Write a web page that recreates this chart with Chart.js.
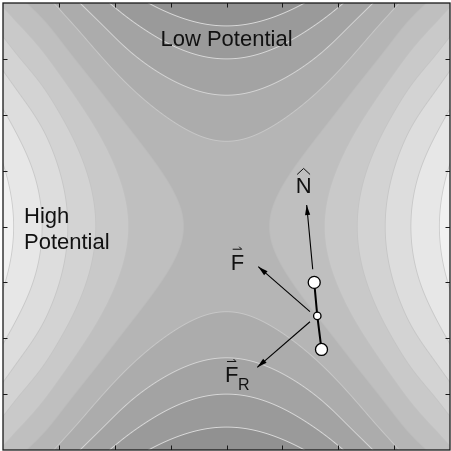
<!DOCTYPE html>
<html>
<head>
<meta charset="utf-8">
<script src="https://cdn.jsdelivr.net/npm/chart.js@4.4.0/dist/chart.umd.min.js"></script>
<style>
  html, body { margin: 0; padding: 0; background: #fff; }
  canvas { display: block; }
</style>
</head>
<body>
<canvas id="chart" width="451" height="451"></canvas>
<script>
// --- axes ---
const axisMin = -4, axisMax = 4;
const tickValues = [-3, -2, -1, 0, 1, 2, 3];

// --- contour field ---
// where each contour crosses the horizontal / vertical centre line
const saddleLevel = 4.75;
const xCrossings = [0.77, 1.75, 2.34, 2.84, 3.30, 3.81]; // levels 5..10
const yCrossings = [1.525, 2.35, 3.0, 3.59];             // levels 4..1
const bandGrays = [145, 154, 163, 172, 181, 191, 201, 211, 221, 231, 241];
const lineGrays = [220, 218, 214, 200, 188, 192, 196, 198, 200, 204]; // levels 1..10

// --- molecule and force arrows ---
const molecule = [{ x: 1.57, y: -1.0 }, { x: 1.625, y: -1.6 }, { x: 1.70, y: -2.2 }];
const atomRadii = [6, 3.7, 6];
const arrowN = [{ x: 1.543, y: -0.766 }, { x: 1.435, y: 0.385 }];
const arrowF = [{ x: 1.494, y: -1.525 }, { x: 0.569, y: -0.719 }];
const arrowFR = [{ x: 1.494, y: -1.704 }, { x: 0.551, y: -2.52 }];

// --- text ---
const labels = [
    { text: 'Low Potential', x: 0.0, y: 3.23, size: 22, align: 'center' },
    { text: 'High', x: -3.624, y: 0.068, size: 22, align: 'left' },
    { text: 'Potential', x: -3.624, y: -0.403, size: 22, align: 'left' },
    { text: 'N', x: 1.238, y: 0.605, size: 22, align: 'left', accent: 'hat' },
    { text: 'F', x: 0.075, y: -0.778, size: 22, align: 'left', accent: 'vec' },
    { text: 'F', x: -0.027, y: -2.788, size: 22, align: 'left', accent: 'vec' },
    { text: 'R', x: 0.206, y: -2.926, size: 16, align: 'left' },
];
const FONT = 'Arial, "Liberation Sans", Helvetica, sans-serif';

// monotone cubic through the crossings (in r^2)
const monotone = (xs, ys) => {
    const n = xs.length, d = [], m = [];
    for (let i = 0; i < n - 1; i++) d.push((ys[i + 1] - ys[i]) / (xs[i + 1] - xs[i]));
    m[0] = d[0]; m[n - 1] = d[n - 2];
    for (let i = 1; i < n - 1; i++) m[i] = d[i - 1] * d[i] <= 0 ? 0 : 2 / (1 / d[i - 1] + 1 / d[i]);
    return s => {
        if (s >= xs[n - 1]) return ys[n - 1] + m[n - 1] * (s - xs[n - 1]);
        let i = 0;
        while (i < n - 2 && s > xs[i + 1]) i++;
        const h = xs[i + 1] - xs[i], t = (s - xs[i]) / h, t2 = t * t, t3 = t2 * t;
        return (2 * t3 - 3 * t2 + 1) * ys[i] + (t3 - 2 * t2 + t) * h * m[i]
            + (-2 * t3 + 3 * t2) * ys[i + 1] + (t3 - t2) * h * m[i + 1];
    };
};
const fx = monotone([0, ...xCrossings.map(v => v * v)], [0, ...xCrossings.map((v, i) => 5 + i - saddleLevel)]);
const gy = monotone([0, ...yCrossings.map(v => v * v)], [0, ...yCrossings.map((v, i) => saddleLevel - (4 - i))]);

const contourPlugin = {
    id: 'contour',
    beforeDatasetsDraw(chart) {
        const { ctx, chartArea: a, scales } = chart;
        const x0 = Math.round(a.left), y0 = Math.round(a.top);
        const w = Math.round(a.right) - x0, h = Math.round(a.bottom) - y0;
        const F = [], dF = [], G = [], dG = [];
        const fAt = px => { const v = scales.x.getValueForPixel(px); return fx(v * v); };
        const gAt = py => { const v = scales.y.getValueForPixel(py); return gy(v * v); };
        for (let i = 0; i < w; i++) { const p = x0 + i + 0.5; F.push(fAt(p)); dF.push(fAt(p + 0.5) - fAt(p - 0.5)); }
        for (let j = 0; j < h; j++) { const p = y0 + j + 0.5; G.push(gAt(p)); dG.push(gAt(p + 0.5) - gAt(p - 0.5)); }
        const img = ctx.createImageData(w, h);
        for (let j = 0; j < h; j++) {
            for (let i = 0; i < w; i++) {
                const V = saddleLevel + F[i] - G[j];
                const band = Math.max(0, Math.min(10, Math.floor(V)));
                let c = bandGrays[band];
                const lvl = Math.round(V);
                if (lvl >= 1 && lvl <= 10) {
                    const grad = Math.hypot(dF[i], dG[j]) || 1e-6;
                    const dist = Math.abs(V - lvl) / grad;
                    const cov = Math.max(0, Math.min(1, 0.45 + 0.5 - dist));
                    c = c * (1 - cov) + lineGrays[lvl - 1] * cov;
                }
                const k = (j * w + i) * 4;
                img.data[k] = img.data[k + 1] = img.data[k + 2] = Math.round(c);
                img.data[k + 3] = 255;
            }
        }
        ctx.putImageData(img, x0, y0);
    },
    afterDatasetsDraw(chart) {
        const { ctx, scales } = chart;
        // arrow heads at the tip of each arrow dataset
        chart.data.datasets.forEach((ds, di) => {
            if (!ds.arrow) return;
            const pts = chart.getDatasetMeta(di).data;
            const tail = pts[0], tip = pts[1];
            const ang = Math.atan2(tip.y - tail.y, tip.x - tail.x);
            const len = 10, half = 2.6;
            ctx.save();
            ctx.translate(tip.x, tip.y);
            ctx.rotate(ang);
            ctx.beginPath();
            ctx.moveTo(0, 0);
            ctx.lineTo(-len, half);
            ctx.lineTo(-len, -half);
            ctx.closePath();
            ctx.fillStyle = '#000';
            ctx.fill();
            ctx.restore();
        });
        // labels
        ctx.save();
        ctx.fillStyle = '#111';
        ctx.strokeStyle = '#111';
        ctx.textBaseline = 'alphabetic';
        labels.forEach(l => {
            const px = scales.x.getPixelForValue(l.x), py = scales.y.getPixelForValue(l.y);
            ctx.font = `${l.size}px ${FONT}`;
            ctx.textAlign = l.align;
            ctx.fillText(l.text, px, py);
            const tw = ctx.measureText(l.text).width;
            const top = py - l.size * 0.716;
            if (l.accent === 'hat') {
                ctx.lineWidth = 1;
                ctx.beginPath();
                ctx.moveTo(px + 1.5, top - 2.5);
                ctx.lineTo(px + tw / 2, top - 8.5);
                ctx.lineTo(px + tw - 1.5, top - 2.5);
                ctx.stroke();
            } else if (l.accent === 'vec') {
                ctx.lineWidth = 1;
                const ay = top - 5;
                ctx.beginPath();
                ctx.moveTo(px + 2, ay);
                ctx.lineTo(px + 11, ay);
                ctx.moveTo(px + 11, ay);
                ctx.lineTo(px + 8.5, ay - 2.5);
                ctx.stroke();
            }
        });
        ctx.restore();
    },
    afterDraw(chart) {
        const { ctx, chartArea: a, scales } = chart;
        ctx.save();
        ctx.strokeStyle = '#1a1a1a';
        ctx.lineWidth = 1;
        const tl = 4.5;
        ctx.beginPath();
        tickValues.forEach(v => {
            const px = Math.round(scales.x.getPixelForValue(v)) + 0.5;
            ctx.moveTo(px, a.top); ctx.lineTo(px, a.top + tl);
            ctx.moveTo(px, a.bottom); ctx.lineTo(px, a.bottom - tl);
            const py = Math.round(scales.y.getPixelForValue(v)) + 0.5;
            ctx.moveTo(a.left, py); ctx.lineTo(a.left + tl, py);
            ctx.moveTo(a.right, py); ctx.lineTo(a.right - tl, py);
        });
        ctx.stroke();
        ctx.lineWidth = 1.3;
        ctx.strokeRect(a.left, a.top, a.right - a.left, a.bottom - a.top);
        ctx.restore();
    }
};

const arrowStyle = { showLine: true, pointRadius: 0, borderColor: '#000', borderWidth: 1.1, arrow: true };

new Chart(document.getElementById('chart'), {
    type: 'scatter',
    data: {
        datasets: [
            { data: arrowN, ...arrowStyle },
            { data: arrowF, ...arrowStyle },
            { data: arrowFR, ...arrowStyle },
            {
                data: molecule,
                showLine: true,
                borderColor: '#000',
                borderWidth: 2,
                pointRadius: atomRadii,
                pointBackgroundColor: '#fff',
                pointBorderColor: '#000',
                pointBorderWidth: 1.3,
            },
        ],
    },
    options: {
        responsive: false,
        animation: false,
        events: [],
        layout: { autoPadding: false, padding: { left: 3, top: 3, right: 1, bottom: 1 } },
        scales: {
            x: { type: 'linear', min: axisMin, max: axisMax, display: false },
            y: { type: 'linear', min: axisMin, max: axisMax, display: false },
        },
        plugins: { legend: { display: false }, tooltip: { enabled: false } },
    },
    plugins: [contourPlugin],
});
</script>
</body>
</html>
